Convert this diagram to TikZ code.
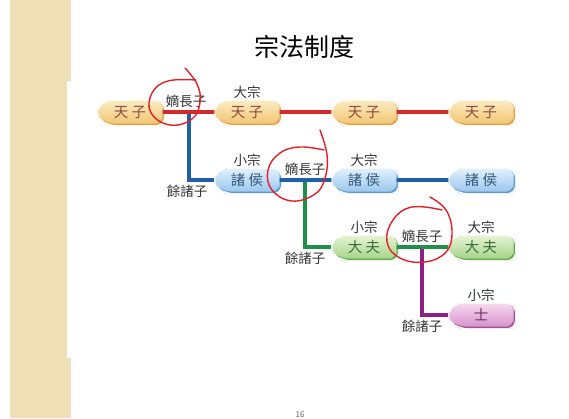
\documentclass[tikz,border=0pt]{standalone}
\usepackage{fontspec}
\setmainfont{Noto Sans CJK TC}
\usetikzlibrary{positioning,shapes.misc,shadows}
\definecolor{fascia}{HTML}{EFDFB6}
\definecolor{tzA}{HTML}{FCEBC2}\definecolor{tzB}{HTML}{F2C673}
\definecolor{tzS}{HTML}{DDA24C}\definecolor{tzT}{HTML}{8C4A3C}
\definecolor{zhA}{HTML}{E0F0FC}\definecolor{zhB}{HTML}{9CC8EE}
\definecolor{zhS}{HTML}{5E98CF}\definecolor{zhT}{HTML}{34577A}
\definecolor{dfA}{HTML}{E6F4D4}\definecolor{dfB}{HTML}{A6D488}
\definecolor{dfS}{HTML}{66AA58}\definecolor{dfT}{HTML}{3C6B3E}
\definecolor{shA}{HTML}{F7D8EE}\definecolor{shB}{HTML}{D495CD}
\definecolor{shS}{HTML}{A2509A}\definecolor{shT}{HTML}{6E2D68}
\definecolor{rosso}{HTML}{D42A2E}\definecolor{blu}{HTML}{1F5FA6}
\definecolor{verde}{HTML}{1E9047}\definecolor{viola}{HTML}{8E1F86}
\definecolor{penna}{HTML}{E41E26}
\tikzset{
  casata/.style={chamfered rectangle, chamfered rectangle corners={north west,south west},
    chamfered rectangle xsep=5pt, rounded corners=8pt, minimum width=65pt,
    minimum height=23pt, inner sep=0pt, font=\fontsize{14.5}{14.5}\selectfont},
  tianzi/.style={casata, top color=tzA, bottom color=tzB, text=tzT,
    drop shadow={shadow xshift=1.5pt, shadow yshift=-1.5pt, fill=tzS, opacity=1}},
  zhuhou/.style={casata, top color=zhA, bottom color=zhB, text=zhT,
    drop shadow={shadow xshift=1.5pt, shadow yshift=-1.5pt, fill=zhS, opacity=1}},
  dafu/.style={casata, top color=dfA, bottom color=dfB, text=dfT,
    drop shadow={shadow xshift=1.5pt, shadow yshift=-1.5pt, fill=dfS, opacity=1}},
  shi/.style={casata, top color=shA, bottom color=shB, text=shT,
    drop shadow={shadow xshift=1.5pt, shadow yshift=-1.5pt, fill=shS, opacity=1}},
  lbl/.style={inner sep=1pt, text=black!80, font=\fontsize{13.5}{13.5}\selectfont},
  ramo/.style={line width=3.6pt},
  segno/.style={draw=penna, line width=1.4pt, line cap=round, line join=round}
}

\begin{document}
\begin{tikzpicture}[x=1pt,y=-1pt]
\useasboundingbox (0,0) rectangle (569,418);
% fascia laterale
   \fill[fascia] (10,0) rectangle (67,418);
   \fill[fascia] (67,0) rectangle (71,81); \fill[fascia] (67,358) rectangle (71,418);
% titolo
   \node[font=\fontsize{25}{25}\selectfont] (titolo) at (304,47) {宗法制度};
   \node[font=\fontsize{8}{8}\selectfont, text=black!60] (pagina) at (300,415) {16};
% riga 1
   \node[tianzi] (tz1) at (130,112) {天 子}; \node[tianzi] (tz2) at (247,112) {天 子};
   \node[tianzi] (tz3) at (364,112) {天 子}; \node[tianzi] (tz4) at (481,112) {天 子};
% riga 2
   \node[zhuhou] (zh1) at (247,180) {諸 侯}; \node[zhuhou] (zh2) at (364,180) {諸 侯};
   \node[zhuhou] (zh3) at (481,180) {諸 侯};
% riga 3
   \node[dafu] (df1) at (364,247) {大 夫}; \node[dafu] (df2) at (481,247) {大 夫};
% riga 4
   \node[shi] (sh1) at (481,315) {士};
% punti di ramo
   \coordinate (b1) at (189,112); \coordinate (c1) at (b1 |- zh1);
   \coordinate (b2) at (305,180); \coordinate (c2) at (b2 |- df1);
   \coordinate (b3) at (422,247); \coordinate (c3) at (b3 |- sh1);
% rami
   \draw[ramo,blu] (b1) |- (zh1); \draw[ramo,verde] (b2) |- (df1);
   \draw[ramo,viola] (b3) |- (sh1);
   \draw[ramo,rosso] (tz1) -- (tz2); \draw[ramo,rosso] (tz2) -- (tz3);
   \draw[ramo,rosso] (tz3) -- (tz4);
   \draw[ramo,blu] (zh1) -- (zh2); \draw[ramo,blu] (zh2) -- (zh3);
   \draw[ramo,verde] (df1) -- (df2);
% etichette
   \node[lbl, above=3pt of b1, xshift=-3pt] (dz1) {嫡長子}; \node[lbl, below=4pt of c1, xshift=-2pt] (yz1) {餘諸子};
   \node[lbl, above=3pt of b2] (dz2) {嫡長子}; \node[lbl, below=4pt of c2] (yz2) {餘諸子};
   \node[lbl, above=3pt of b3] (dz3) {嫡長子}; \node[lbl, below=4pt of c3] (yz3) {餘諸子};
   \node[lbl, above=1pt of tz2] (dzong1) {大宗}; \node[lbl, above=1pt of zh1] (xzong1) {小宗};
   \node[lbl, above=1pt of zh2] (dzong2) {大宗}; \node[lbl, above=1pt of df1] (xzong2) {小宗};
   \node[lbl, above=1pt of df2] (dzong3) {大宗}; \node[lbl, above=1pt of sh1] (xzong3) {小宗};
% segni rossi
   \draw[segno] plot[smooth, tension=0.7] coordinates {(185,68) (197,84) (200,102)
     (192,119) (170,125) (151,113) (152,93) (168,81) (196,80)};
   \draw[segno] plot[smooth, tension=0.7] coordinates {(320,130) (327,155) (325,178)
     (315,194) (292,201) (272,190) (268,170) (280,153) (300,147) (324,150)};
   \draw[segno] plot[smooth, tension=0.7] coordinates {(430,197) (446,210) (452,232)
     (446,252) (425,262) (400,258) (387,242) (393,220) (412,207) (442,210)};
\end{tikzpicture}
\end{document}
